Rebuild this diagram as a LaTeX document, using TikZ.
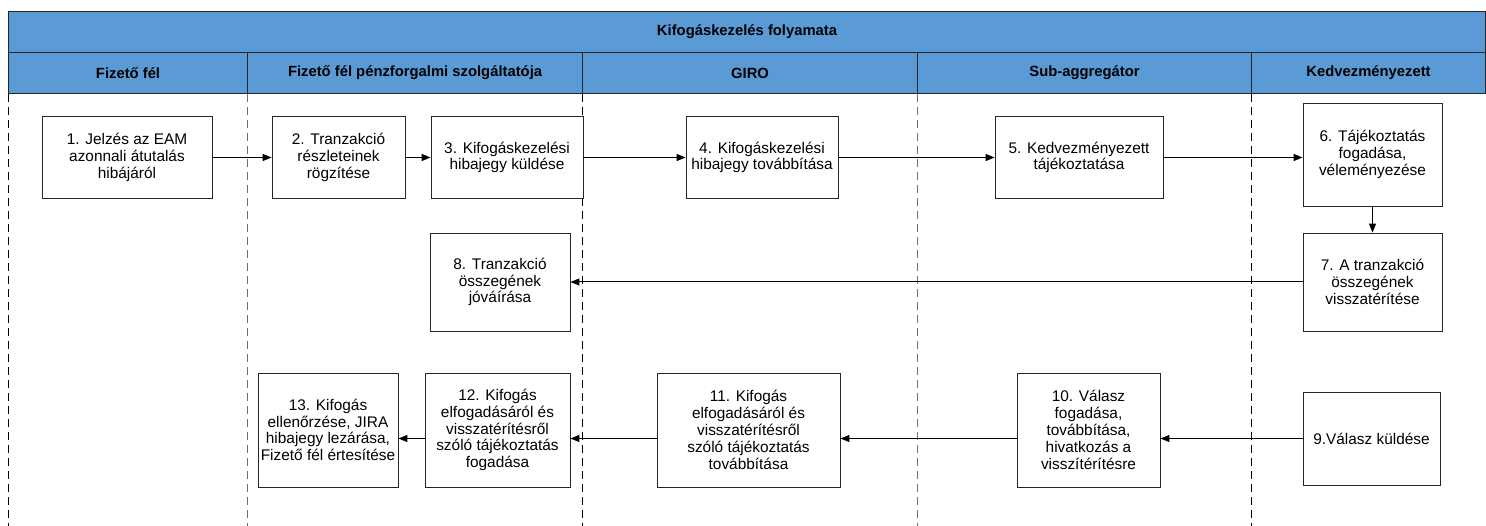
\documentclass[tikz,border=0pt]{standalone}
\usepackage{fontspec}
\setmainfont{Liberation Sans}
\usetikzlibrary{arrows.meta}
\definecolor{hdrblue}{RGB}{91,155,213}
\definecolor{lanegrey}{RGB}{110,110,110}
\begin{document}
\begin{tikzpicture}[x=1pt,y=-1pt,
  hdr/.style={draw=black!85, line width=1.1pt, fill=hdrblue, inner sep=0pt, font=\bfseries\fontsize{14.8}{17}\selectfont, anchor=north west},
  box/.style={draw=black!85, line width=0.8pt, fill=white, inner sep=0pt, align=center, font=\fontsize{15.4}{16.8}\selectfont},
  flow/.style={line width=1pt, -{Triangle[length=9pt,width=7pt]}},
  lanesep/.style={dashed, dash pattern=on 8pt off 5pt, line width=0.8pt}
]
\useasboundingbox (0,0) rectangle (1486,526);
% header
\node[hdr, minimum width=1477pt, minimum height=41pt] (title) at (8,11) {Kifogáskezelés folyamata};
\node[hdr, minimum width=239pt, minimum height=41pt] (l1) at (8,52) {Fizető fél};
\node[hdr, minimum width=335pt, minimum height=41pt] (l2) at (247,52) {Fizető fél pénzforgalmi szolgáltatója};
\node[hdr, minimum width=335pt, minimum height=41pt] (l3) at (582,52) {GIRO};
\node[hdr, minimum width=334pt, minimum height=41pt] (l4) at (917,52) {Sub-aggregátor};
\node[hdr, minimum width=234pt, minimum height=41pt] (l5) at (1251,52) {Kedvezményezett};
% lane separators
\coordinate (e1) at (8,526);
\coordinate (e2) at (247,526);
\coordinate (e3) at (582,526);
\coordinate (e4) at (917,526);
\coordinate (e5) at (1251,526);
\draw[lanesep, black] (l1.south west) -- (e1);
\draw[lanesep, lanegrey] (l2.south west) -- (e2);
\draw[lanesep, black] (l3.south west) -- (e3);
\draw[lanesep, lanegrey] (l4.south west) -- (e4);
\draw[lanesep, black] (l5.south west) -- (e5);
% boxes
\node[box, minimum width=170pt, minimum height=82pt] (n1) at (127,157.5) {1. Jelzés az EAM\\azonnali átutalás\\hibájáról};
\node[box, minimum width=133pt, minimum height=82pt] (n2) at (338.5,157.5) {2. Tranzakció\\részleteinek\\rögzítése};
\node[box, minimum width=152pt, minimum height=82pt] (n3) at (507,157.5) {3. Kifogáskezelési\\hibajegy küldése};
\node[box, minimum width=152pt, minimum height=82pt] (n4) at (762,157.5) {4. Kifogáskezelési\\hibajegy továbbítása};
\node[box, minimum width=168pt, minimum height=82pt] (n5) at (1079,157.5) {5. Kedvezményezett\\tájékoztatása};
\node[box, minimum width=139pt, minimum height=103pt] (n6) at (1372.5,154.5) {6. Tájékoztatás\\fogadása,\\véleményezése};
\node[box, minimum width=139pt, minimum height=98pt] (n7) at (1372.5,282) {7. A tranzakció\\összegének\\visszatérítése};
\node[box, minimum width=140pt, minimum height=98pt] (n8) at (500,282) {8. Tranzakció\\összegének\\jóváírása};
\node[box, minimum width=137pt, minimum height=93pt] (n9) at (1371.5,438.5) {9.Válasz küldése};
\node[box, minimum width=143pt, minimum height=114pt] (n10) at (1088.5,430) {10. Válasz\\fogadása,\\továbbítása,\\hivatkozás a\\visszítérítésre};
\node[box, minimum width=183pt, minimum height=114pt] (n11) at (748.5,430) {11. Kifogás\\elfogadásáról és\\visszatérítésről\\szóló tájékoztatás\\továbbítása};
\node[box, minimum width=145pt, minimum height=114pt] (n12) at (497.5,430) {12. Kifogás\\elfogadásáról és\\visszatérítésről\\szóló tájékoztatás\\fogadása};
\node[box, minimum width=140pt, minimum height=114pt] (n13) at (328,430) {13. Kifogás\\ellenőrzése, JIRA\\hibajegy lezárása,\\Fizető fél értesítése};
% connectors
\draw[flow] (n1) -- (n2);
\draw[flow] (n2) -- (n3);
\draw[flow] (n3) -- (n4);
\draw[flow] (n4) -- (n5);
\draw[flow] (n5.east) -- (n5.east -| n6.west);
\draw[flow] (n6) -- (n7);
\draw[flow] (n7) -- (n8);
\draw[flow] (n9.west) -- (n9.west -| n10.east);
\draw[flow] (n10.west |- n9.west) -- (n9.west -| n11.east);
\draw[flow] (n11.west |- n9.west) -- (n9.west -| n12.east);
\draw[flow] (n12.west |- n9.west) -- (n9.west -| n13.east);
\end{tikzpicture}
\end{document}
